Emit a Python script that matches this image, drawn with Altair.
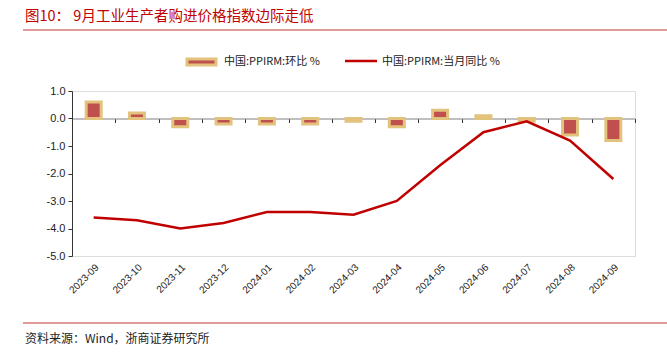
import altair as alt
import pandas as pd

months = ["2023-09", "2023-10", "2023-11", "2023-12", "2024-01", "2024-02", "2024-03",
          "2024-04", "2024-05", "2024-06", "2024-07", "2024-08", "2024-09"]
mom = [0.6, 0.2, -0.3, -0.2, -0.2, -0.2, -0.1, -0.3, 0.3, 0.1, -0.1, -0.6, -0.8]
yoy = [-3.6, -3.7, -4.0, -3.8, -3.4, -3.4, -3.5, -3.0, -1.7, -0.5, -0.1, -0.8, -2.2]
y_ticks = [1.0, 0.0, -1.0, -2.0, -3.0, -4.0, -5.0]

title_text = "图10：  9月工业生产者购进价格指数边际走低"
source_text = "资料来源：Wind，浙商证券研究所"
legend_bar = "中国:PPIRM:环比 %"
legend_line = "中国:PPIRM:当月同比 %"

df = pd.DataFrame({"month": months, "mom": mom, "yoy": yoy})

W, H = 563, 165
FONT = "Liberation Sans"
CJK = "Noto Sans CJK SC"

xscale = alt.Scale(domain=months, paddingInner=0, paddingOuter=0)
yscale = alt.Scale(domain=[-5, 1], nice=False, zero=False)

yaxis = alt.Axis(values=y_ticks, title=None, grid=False,
                 labelExpr="replace(format(datum.value, '.1f'), '\u2212', '-')",
                 labelOverlap=False, labelFlush=False,
                 domainColor="#333333", tickColor="#333333", tickSize=4,
                 labelFont=FONT, labelFontSize=11, labelColor="#222222",
                 labelPadding=3)

base = alt.Chart(df)

bars = base.mark_bar(size=15, color="#C0504D", stroke="#E2C27C", strokeWidth=3).encode(
    x=alt.X("month:N", scale=xscale, sort=months,
            axis=alt.Axis(orient="bottom", offset=-137.5, labels=False, title=None,
                          domainColor="#808080", domainWidth=1.2, tickColor="#333333",
                          tickSize=4, tickBand="extent", ticks=True)),
    y=alt.Y("mom:Q", scale=yscale, axis=yaxis),
)

line = base.mark_line(color="#C00000", strokeWidth=2.5).encode(
    x=alt.X("month:N", scale=xscale, sort=months,
            axis=alt.Axis(orient="bottom", domain=False, ticks=False, title=None,
                          labelAngle=-45, labelFont=FONT, labelFontSize=10,
                          labelOverlap=False,
                          labelColor="#222222", labelPadding=6)),
    y=alt.Y("yoy:Q", scale=yscale, axis=yaxis),
)

def txt(s, x, y, size, color, font, align="left", baseline="alphabetic"):
    return alt.Chart(pd.DataFrame({"t": [s]})).mark_text(
        align=align, baseline=baseline, fontSize=size, color=color, font=font
    ).encode(text="t:N", x=alt.value(x), y=alt.value(y))

def hline(x1, x2, y, color, width):
    return alt.Chart(pd.DataFrame({"a": [0]})).mark_rule(color=color, strokeWidth=width).encode(
        x=alt.value(x1), x2=alt.value(x2), y=alt.value(y))

title = txt(title_text, -47, -70, 14.5, "#C00000", CJK)
title_rule = hline(-49, 595, -61, "#D97A7A", 1.5)
footer_rule = hline(-49, 595, 232, "#D97A7A", 1.5)
footer = txt(source_text, -47, 252, 12, "#222222", CJK)

leg_rect = alt.Chart(pd.DataFrame({"a": [0]})).mark_rect(
    color="#C0504D", stroke="#E2C27C", strokeWidth=3).encode(
    x=alt.value(115), x2=alt.value(144), y=alt.value(-32), y2=alt.value(-26))
leg_text1 = txt(legend_bar, 152, -29, 11, "#222222", CJK, baseline="middle")
leg_line = hline(273, 305, -30, "#C00000", 2.5)
leg_text2 = txt(legend_line, 310, -29, 11, "#222222", CJK, baseline="middle")

chart = alt.layer(
    bars, line, title, title_rule, footer_rule, footer, leg_rect, leg_text1, leg_line, leg_text2
).resolve_axis(x="independent").properties(
    width=W, height=H,
    autosize=alt.AutoSizeParams(type="none"),
    padding={"left": 72, "top": 91, "right": 32, "bottom": 97},
).configure_view(stroke=None).configure(background="white").configure_axisY(
    labelOverlap=False
)

chart.save("out.html", embed_options={"renderer": "svg", "actions": False})
